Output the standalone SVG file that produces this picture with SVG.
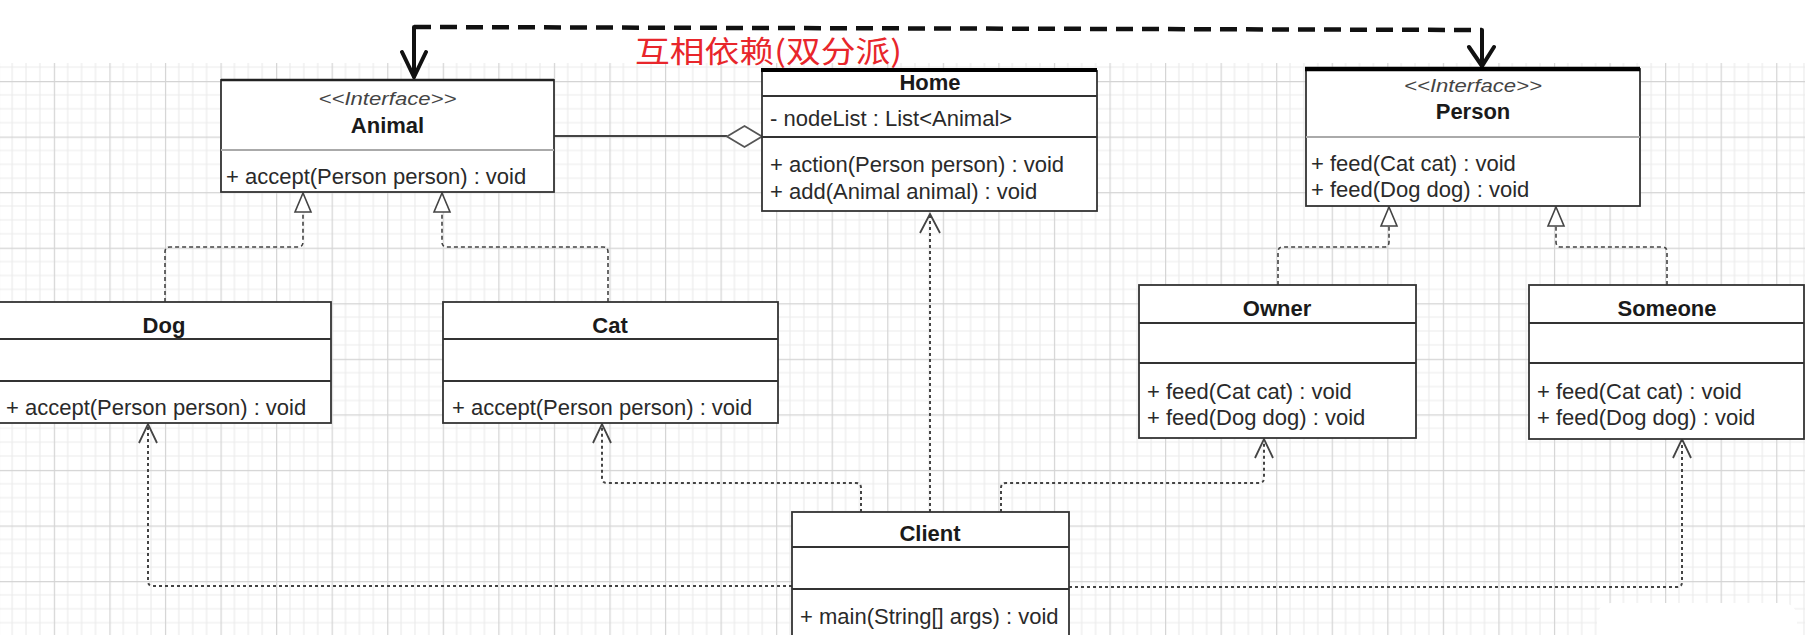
<svg xmlns="http://www.w3.org/2000/svg" width="1805" height="635" viewBox="0 0 1805 635">
<style>
.box{fill:#fff;stroke:#333;stroke-width:1.8}
.div{stroke:#333;stroke-width:1.8;fill:none}
.divg{stroke:#aaa;stroke-width:2;fill:none}
.t{font-family:"Liberation Sans",Arial,sans-serif;font-size:22px;fill:#2a2a2a}
.b{font-weight:bold;text-anchor:middle;fill:#1a1a1a}
.i{font-style:italic;text-anchor:middle;font-size:18px;fill:#444}
.impl{fill:none;stroke:#444;stroke-width:1.6;stroke-dasharray:4 3}
.dep{fill:none;stroke:#444;stroke-width:2;stroke-dasharray:3 3}
.tri{fill:#fff;stroke:#444;stroke-width:1.6}
.open{fill:none;stroke:#444;stroke-width:1.8}
.thick{stroke:#111;stroke-width:4;fill:none;stroke-linecap:round}
</style>
<defs>
<pattern id="grid" patternUnits="userSpaceOnUse" x="220.5" y="81" width="55.56" height="55.56">
<path d="M13.89,0V55.56M27.78,0V55.56M41.67,0V55.56M0,13.89H55.56M0,27.78H55.56M0,41.67H55.56" stroke="#ececec" stroke-width="1.2" fill="none"/>
<path d="M0.5,0V55.56M0,0.5H55.56" stroke="#d4d4d4" stroke-width="1.4" fill="none"/>
</pattern>
</defs>
<rect x="0" y="0" width="1805" height="635" fill="#fff"/>
<rect x="0" y="63" width="1805" height="572" fill="url(#grid)"/>
<rect x="1597" y="603" width="200" height="40" rx="14" fill="#fff"/>

<g id="connectors">
<path class="impl" d="M165,302V252Q165,247 170,247H298Q303,247 303,242V212"/>
<polygon class="tri" points="303,193 295,212 311,212"/>
<path class="impl" d="M608,302V252Q608,247 603,247H447Q442,247 442,242V212"/>
<polygon class="tri" points="442,193 434,212 450,212"/>
<path class="impl" d="M1278,285V252Q1278,247 1283,247H1384Q1389,247 1389,242V226"/>
<polygon class="tri" points="1389,207 1381,226 1397,226"/>
<path class="impl" d="M1667,285V252Q1667,247 1662,247H1561Q1556,247 1556,242V226"/>
<polygon class="tri" points="1556,207 1548,226 1564,226"/>
<path class="dep" d="M930,512V216"/>
<path class="open" d="M920,233L930,214L940,233"/>
<path class="dep" d="M861,512V488Q861,483 856,483H607Q602,483 602,478V426"/>
<path class="open" d="M593,443L602,424L611,443"/>
<path class="dep" d="M1001,512V488Q1001,483 1006,483H1259Q1264,483 1264,478V441"/>
<path class="open" d="M1255,458L1264,439L1273,458"/>
<path class="dep" d="M792,586H153Q148,586 148,581V426"/>
<path class="open" d="M139,443L148,424L157,443"/>
<path class="dep" d="M1069,587H1677Q1682,587 1682,582V441"/>
<path class="open" d="M1673,458L1682,439L1691,458"/>
<path d="M554,136H727" stroke="#444" stroke-width="1.8" fill="none"/>
<polygon points="727,136.5 744.5,126 762,136.5 744.5,147" fill="#fff" stroke="#555" stroke-width="1.8"/>
<path d="M414,27L1482,30" stroke="#111" stroke-width="4.5" fill="none" stroke-dasharray="17 9"/>
<path class="thick" d="M414,27V76M1482,30V66" stroke-width="2.5"/>
<path class="thick" d="M402,52L414,77L426,52M1469,47L1482,66L1494,47" stroke-width="3.5"/>
</g>

<text x="635" y="62" font-family="'Noto Sans CJK SC',sans-serif" font-size="30" fill="#e8262b" textLength="267" lengthAdjust="spacingAndGlyphs">互相依赖(双分派)</text>

<g id="animal">
<rect class="box" x="221" y="80" width="333" height="112"/>
<path d="M221,80H554" stroke="#222" stroke-width="2.6"/>
<path class="divg" d="M221,150H554"/>
<text class="t i" x="387.5" y="105" textLength="138" lengthAdjust="spacingAndGlyphs">&lt;&lt;Interface&gt;&gt;</text>
<text class="t b" x="387.5" y="133">Animal</text>
<text class="t" x="226" y="184">+ accept(Person person) : void</text>
</g>

<g id="home">
<rect class="box" x="762" y="71" width="335" height="140"/>
<path d="M761,70H1097" stroke="#000" stroke-width="4"/>
<path class="div" d="M762,96H1097M762,137H1097"/>
<text class="t b" x="930" y="90">Home</text>
<text class="t" x="770" y="126">- nodeList : List&lt;Animal&gt;</text>
<text class="t" x="770" y="172">+ action(Person person) : void</text>
<text class="t" x="770" y="199">+ add(Animal animal) : void</text>
</g>

<g id="person">
<rect class="box" x="1306" y="69" width="334" height="137"/>
<path d="M1305,69H1640" stroke="#000" stroke-width="4.5"/>
<path class="divg" d="M1306,137H1640"/>
<text class="t i" x="1473" y="92" textLength="138" lengthAdjust="spacingAndGlyphs">&lt;&lt;Interface&gt;&gt;</text>
<text class="t b" x="1473" y="119">Person</text>
<text class="t" x="1311" y="171">+ feed(Cat cat) : void</text>
<text class="t" x="1311" y="197">+ feed(Dog dog) : void</text>
</g>

<g id="dog">
<rect class="box" x="-3" y="302" width="334" height="121"/>
<path class="div" d="M-3,339H331M-3,381H331"/>
<text class="t b" x="164" y="333">Dog</text>
<text class="t" x="6" y="415">+ accept(Person person) : void</text>
</g>

<g id="cat">
<rect class="box" x="443" y="302" width="335" height="121"/>
<path class="div" d="M443,339H778M443,381H778"/>
<text class="t b" x="610" y="333">Cat</text>
<text class="t" x="452" y="415">+ accept(Person person) : void</text>
</g>

<g id="owner">
<rect class="box" x="1139" y="285" width="277" height="153"/>
<path class="div" d="M1139,323H1416M1139,363H1416"/>
<text class="t b" x="1277" y="316">Owner</text>
<text class="t" x="1147" y="399">+ feed(Cat cat) : void</text>
<text class="t" x="1147" y="425">+ feed(Dog dog) : void</text>
</g>

<g id="someone">
<rect class="box" x="1529" y="285" width="275" height="154"/>
<path class="div" d="M1529,323H1804M1529,363H1804"/>
<text class="t b" x="1667" y="316">Someone</text>
<text class="t" x="1537" y="399">+ feed(Cat cat) : void</text>
<text class="t" x="1537" y="425">+ feed(Dog dog) : void</text>
</g>

<g id="client">
<rect class="box" x="792" y="512" width="277" height="126"/>
<path class="div" d="M792,547H1069M792,589H1069"/>
<text class="t b" x="930" y="541">Client</text>
<text class="t" x="800" y="624">+ main(String[] args) : void</text>
</g>
</svg>
